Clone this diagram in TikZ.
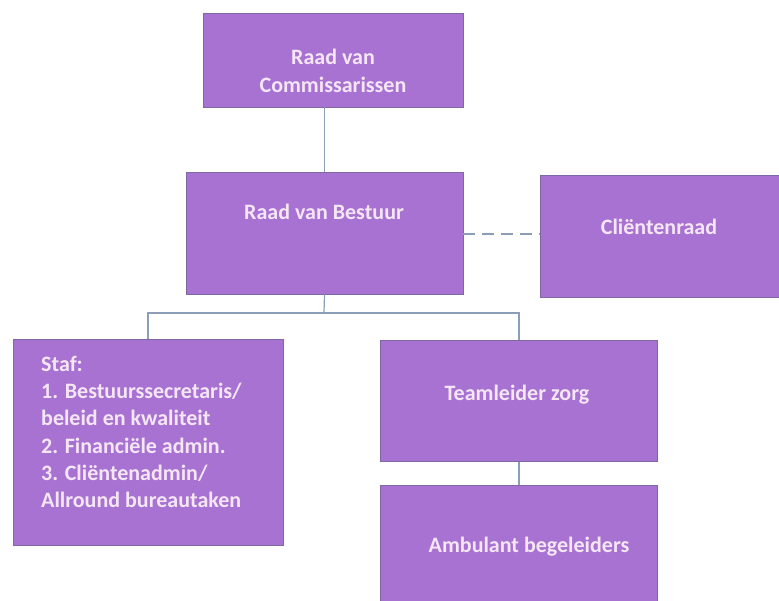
\documentclass[tikz,border=0pt]{standalone}
\usepackage{fontspec}
\setmainfont{Carlito}
\definecolor{boxfill}{HTML}{A872D2}
\definecolor{boxdraw}{HTML}{7E68A2}
\definecolor{boxtext}{HTML}{F5E6F5}
\definecolor{linecol}{HTML}{8C9DB8}
\begin{document}
\begin{tikzpicture}[x=1pt,y=-1pt,
  orgbox/.style={draw=boxdraw, fill=boxfill, line width=0.8pt, rectangle, inner sep=0pt},
  lbl/.style={text=boxtext, font=\fontsize{22}{28}\selectfont\bfseries, inner sep=0pt, align=center},
  conn/.style={draw=linecol, line width=1.2pt}]
\useasboundingbox (0,0) rectangle (779,601);
\clip (0,0) rectangle (779,601);
% boxes
\node[orgbox, minimum width=260pt, minimum height=94pt] (rvc) at (333,60) {};
\node[orgbox, minimum width=277pt, minimum height=122pt] (rvb) at (324.5,233) {};
\node[orgbox, minimum width=250pt, minimum height=122pt, anchor=north west] (cr) at (540,175) {};
\node[orgbox, minimum width=270pt, minimum height=206pt, anchor=north west] (staf) at (13,339) {};
\node[orgbox, minimum width=277pt, minimum height=121pt, anchor=north west] (tz) at (380,340) {};
\node[orgbox, minimum width=277pt, minimum height=140pt, anchor=north west] (ab) at (380,485) {};
% labels
\node[lbl] (trvc) at (333,71) {Raad van\\Commissarissen};
\node[lbl] (trvb) at (324,212) {Raad van Bestuur};
\node[lbl] (tcr) at (659,227) {Cliëntenraad};
\node[lbl, align=left, anchor=north west, font=\fontsize{22}{27.2}\selectfont\bfseries] (tstaf) at (41,356) {Staf:\\1. Bestuurssecretaris/\\beleid en kwaliteit\\2. Financiële admin.\\3. Cliëntenadmin/\\Allround bureautaken};
\node[lbl] (ttz) at (517,395) {Teamleider zorg};
\node[lbl] (tab) at (529,547) {Ambulant begeleiders};
% connectors
\coordinate (bus) at (324,313);
\draw[conn] (rvc.south -| rvb.north) -- (rvb.north);
\draw[conn, dash pattern=on 12pt off 7pt] ([yshift=-1pt]rvb.east) -- ([yshift=-1pt]rvb.east -| cr.west);
\draw[conn] (rvb.south) -- (bus);
\draw[conn] (bus) -| (148,339);
\draw[conn] (bus) -| (tz.north);
\draw[conn] (tz.south) -- (ab.north);
\end{tikzpicture}
\end{document}
